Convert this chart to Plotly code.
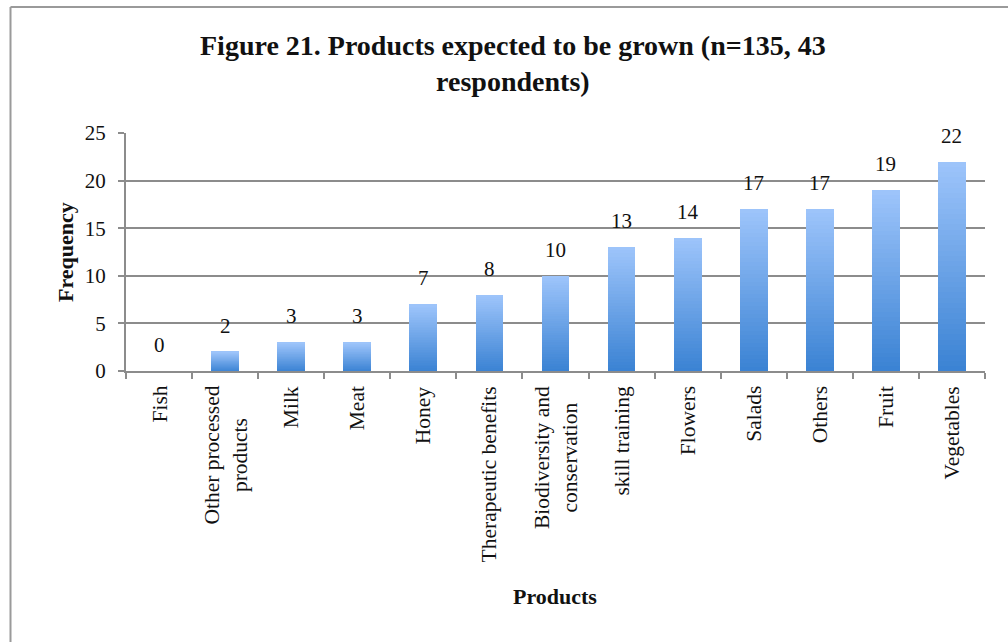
import plotly.graph_objects as go

# Survey results: products respondents expect to grow
products = [
    "Fish", "Other processed<br>products", "Milk", "Meat", "Honey",
    "Therapeutic benefits", "Biodiversity and<br>conservation", "skill training",
    "Flowers", "Salads", "Others", "Fruit", "Vegetables",
]
frequency = [0, 2, 3, 3, 7, 8, 10, 13, 14, 17, 17, 19, 22]
y_ticks = [0, 5, 10, 15, 20, 25]

W, H = 1008, 642
L, R, T, B = 126, 23, 133, 271
plot_w = W - L - R
plot_h = H - T - B

SERIF = "Liberation Serif, Times New Roman, serif"
GRID = "#8c8c8c"
INK = "#111111"

# Vertical gradient per bar: light blue at the top fading to a deeper blue at the base
top_rgb = (158, 197, 251)
bot_rgb = (58, 130, 211)
n_steps = 40


def mix(t):
    return "rgb({},{},{})".format(*[round(b + (a - b) * t) for a, b in zip(top_rgb, bot_rgb)])


fig = go.Figure()
for k in range(n_steps):
    t = (k + 0.5) / n_steps  # 0 at the base, 1 at the top
    fig.add_trace(go.Bar(
        x=products,
        y=[v / n_steps for v in frequency],
        marker=dict(color=mix(t), line=dict(width=0)),
        hoverinfo="skip",
        showlegend=False,
    ))


def px_x(px):
    return (px - L) / plot_w


def px_y(py):
    return (H - B - py) / plot_h


# Value labels above each bar
for name, v in zip(products, frequency):
    fig.add_annotation(
        x=name, y=v, text=str(v), showarrow=False,
        yshift=26, yanchor="middle",
        font=dict(family=SERIF, size=21, color=INK),
    )

# Category labels, rotated, with multi-line names centred on each other
for name in products:
    fig.add_annotation(
        x=name, yref="paper", y=px_y(384), text=name,
        textangle=-90, showarrow=False, align="center",
        xanchor="center", yanchor="top",
        font=dict(family=SERIF, size=21.5, color=INK),
    )

# Axis titles
fig.add_annotation(
    xref="paper", yref="paper", x=px_x(65), y=px_y(252),
    text="<b>Frequency</b>", textangle=-90, showarrow=False,
    xanchor="center", yanchor="middle",
    font=dict(family=SERIF, size=22, color=INK),
)
fig.add_annotation(
    xref="paper", yref="paper", x=px_x(555), y=px_y(596),
    text="<b>Products</b>", showarrow=False,
    xanchor="center", yanchor="middle",
    font=dict(family=SERIF, size=22, color=INK),
)

# Chart title
fig.add_annotation(
    xref="paper", yref="paper", x=px_x(513), y=px_y(64),
    text="<b>Figure 21. Products expected to be grown (n=135, 43<br>respondents)</b>",
    showarrow=False, xanchor="center", yanchor="middle", align="center",
    font=dict(family=SERIF, size=28, color=INK),
)

# Chart frame along the top and left edges
frame = dict(color="#9a9a9a", width=2)
fig.add_shape(type="line", xref="paper", yref="paper",
              x0=px_x(10.5), x1=px_x(W + 5), y0=px_y(7), y1=px_y(7), line=frame)
fig.add_shape(type="line", xref="paper", yref="paper",
              x0=px_x(10.5), x1=px_x(10.5), y0=px_y(7), y1=px_y(H + 5), line=frame)

fig.update_layout(
    width=W, height=H,
    margin=dict(l=L, r=R, t=T, b=B),
    paper_bgcolor="white", plot_bgcolor="white",
    barmode="stack", bargap=0.58,
    font=dict(family=SERIF, color=INK),
)
fig.update_xaxes(
    type="category", tickson="boundaries", showticklabels=False,
    ticks="outside", ticklen=6, tickwidth=2, tickcolor=GRID,
    showline=True, linecolor=GRID, linewidth=2, showgrid=False,
)
fig.update_yaxes(
    range=[0, 25], tickvals=y_ticks,
    ticks="outside", ticklen=6, tickwidth=2, tickcolor=GRID,
    showline=True, linecolor=GRID, linewidth=2,
    showgrid=True, gridcolor=GRID, gridwidth=2, zeroline=False,
    ticklabelstandoff=8,
    tickfont=dict(family=SERIF, size=21, color=INK),
)

fig.write_html("out.html")
